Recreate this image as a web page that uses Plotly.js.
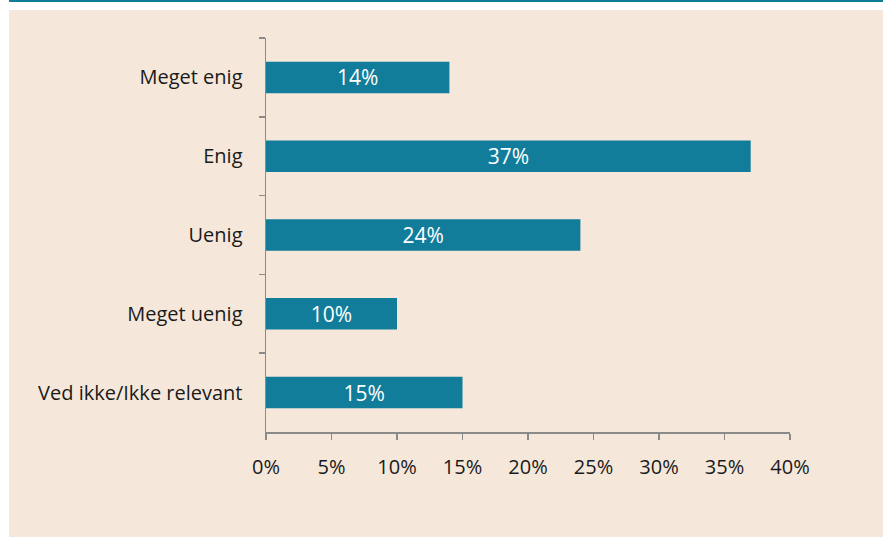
<!DOCTYPE html>
<html>
<head>
<meta charset="utf-8">
<script src="https://cdn.plot.ly/plotly-3.0.1.min.js"></script>
<style>
  html, body { margin: 0; padding: 0; background: #ffffff; width: 883px; height: 537px; overflow: hidden; }
  #topline { position: absolute; left: 9px; top: 0px; width: 874px; height: 2px; background: #0f7d98; }
  #chart { position: absolute; left: 9px; top: 10px; width: 874px; height: 527px; }
</style>
</head>
<body>
<div id="topline"></div>
<div id="chart"></div>
<script>
const categories = ["Meget enig", "Enig", "Uenig", "Meget uenig", "Ved ikke/Ikke relevant"];
const values = [14, 37, 24, 10, 15];
const xTickValues = [0, 5, 10, 15, 20, 25, 30, 35, 40];

const trace = {
  type: "bar",
  orientation: "h",
  y: categories,
  x: values,
  marker: { color: "#117d9a" },
  text: values.map(v => v + "%"),
  textposition: "inside",
  insidetextanchor: "middle",
  constraintext: "none",
  textfont: { color: "#ffffff", size: 21, family: "Open Sans, sans-serif" },
  hoverinfo: "none"
};

const layout = {
  width: 874,
  height: 527,
  margin: { l: 257, r: 93, t: 28, b: 105 },
  paper_bgcolor: "#f5e8da",
  plot_bgcolor: "#f5e8da",
  bargap: 0.6,
  showlegend: false,
  uniformtext: { mode: false },
  font: { family: "Open Sans, sans-serif", size: 20, color: "#1a1a1a" },
  xaxis: {
    range: [0, 40],
    tickvals: xTickValues,
    ticktext: xTickValues.map(v => v + "%"),
    showgrid: false,
    zeroline: false,
    showline: true,
    linecolor: "#8a8a8a",
    linewidth: 1.5,
    ticks: "outside",
    ticklen: 6,
    tickwidth: 1.5,
    tickcolor: "#8a8a8a",
    ticklabelstandoff: 10,
    tickfont: { size: 20, color: "#1a1a1a" },
    fixedrange: true
  },
  yaxis: {
    type: "category",
    range: [4.5, -0.5],
    showgrid: false,
    zeroline: false,
    showline: true,
    linecolor: "#8a8a8a",
    linewidth: 1.5,
    ticks: "outside",
    tickson: "boundaries",
    ticklen: 6,
    tickwidth: 1.5,
    tickcolor: "#8a8a8a",
    ticklabelstandoff: 18,
    tickfont: { size: 20, color: "#1a1a1a" },
    fixedrange: true
  }
};

Plotly.newPlot("chart", [trace], layout, { displayModeBar: false, staticPlot: true });
</script>
</body>
</html>
